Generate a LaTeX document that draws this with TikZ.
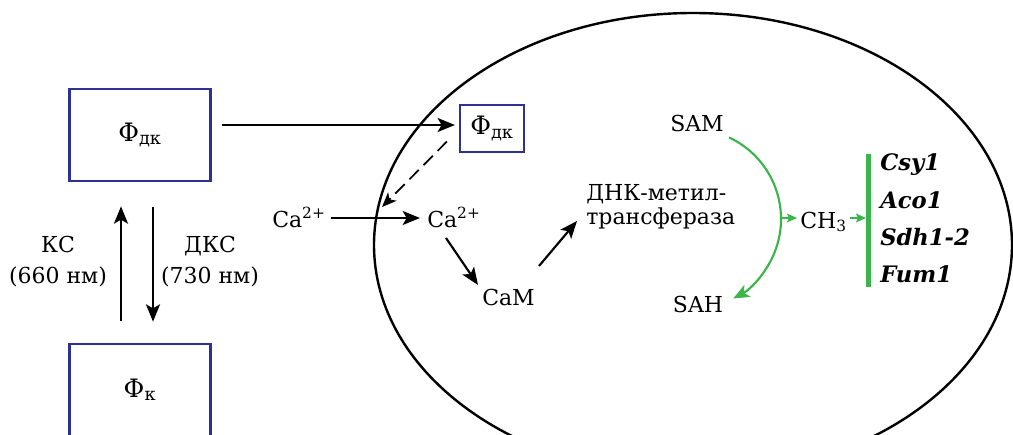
\documentclass[tikz,border=0pt]{standalone}
\usepackage{fontspec}
\setmainfont{DejaVu Serif}
\usetikzlibrary{arrows.meta,calc}
\definecolor{navy}{RGB}{46,49,146}
\definecolor{grn}{RGB}{57,181,74}
\begin{document}
\begin{tikzpicture}[x=0.75pt,y=-0.75pt,
  every node/.style={font=\fontsize{16.5}{19}\selectfont, inner sep=0pt},
  arr/.style={line width=1.6pt, -{Stealth[length=13pt,width=10.5pt,inset=3pt]}},
  darr/.style={line width=1.3pt, dash pattern=on 10pt off 5pt, -{Stealth[length=11pt,width=9pt,inset=3pt]}},
  garc/.style={draw=grn, line width=1.6pt, -{Stealth[length=12pt,width=10pt,inset=3pt]}},
  gsmall/.style={draw=grn, line width=1.3pt, -{Stealth[length=7.5pt,width=6.5pt,inset=1.5pt]}},
  bigbox/.style={draw=navy, line width=2pt, minimum width=106pt, minimum height=69pt, font=\fontsize{19}{21}\selectfont},
  smallbox/.style={draw=navy, line width=1.6pt, minimum width=48pt, minimum height=35.25pt, font=\fontsize{19}{21}\selectfont},
  gene/.style={font=\fontsize{17}{19}\selectfont\bfseries\itshape, anchor=base west}]
\useasboundingbox (0,0) rectangle (1013,435);
\clip (0,0) rectangle (1013,435);

% cell
\draw[line width=1.8pt] (693,245) ellipse [x radius=319, y radius=232];

% boxes
\node[bigbox] (phidk) at (140,135) {Φ\textsubscript{дк}};
\node[bigbox] (phik) at (140,390) {Φ\textsubscript{к}};
\node[smallbox] (phidk2) at (492,128.5) {Φ\textsubscript{дк}};

% light labels
\node[anchor=base] (ks) at (58,252) {КС};
\node[anchor=base] (ks2) at (58,283) {(660 нм)};
\node[anchor=base] (dks) at (210,252) {ДКС};
\node[anchor=base] (dks2) at (210,283) {(730 нм)};

% texts
\node[anchor=base west] (caout) at (272,227) {Ca\textsuperscript{2+}};
\node[anchor=base west] (cain) at (427,227) {Ca\textsuperscript{2+}};
\node[anchor=base west] (cam) at (482,305) {CaM};
\node[anchor=base west] (dnk1) at (586,200) {ДНК-метил-};
\node[anchor=base west] (dnk2) at (586,224) {трансфераза};
\node[anchor=base] (sam) at (697,131) {SAM};
\node[anchor=base] (sah) at (698,312) {SAH};
\node[anchor=base west] (ch3) at (800,228) {CH\textsubscript{3}};
\node[gene] (g1) at (880,170) {Csy1};
\node[gene] (g2) at (880,208) {Aco1};
\node[gene] (g3) at (880,245) {Sdh1-2};
\node[gene] (g4) at (880,282) {Fum1};

% coordinates
\coordinate (memb) at (382,207);
\coordinate (arcC) at (691,219);
\coordinate (arcS) at ($(arcC)+(-65:90)$);
\coordinate (arcR) at (781,218);
\coordinate (barT) at (868,154);
\coordinate (barB) at (868,287);
\coordinate (bar) at (866,218);

% connectors
\draw[arr] ($(phidk.east)+(10,-10)$) -- ($(phidk2.west)+(-4,-3.5)$);
\draw[arr] ($(phik.north)+(-19,-22)$) -- ($(phidk.south)+(-19,24)$);
\draw[arr] ($(phidk.south)+(13,25)$) -- ($(phik.north)+(13,-21)$);
\draw[darr] ($(phidk2.west)+(-12,13)$) -- (memb);
\draw[arr] ($(caout.base west)+(59,-9)$) -- ($(cain.base west)+(-7,-9)$);
\draw[arr] ($(cain.base west)+(19,11)$) -- ($(cam.base west)+(-4,-20)$);
\draw[arr] ($(cam.base west)+(57,-39)$) -- ($(dnk2.base west)+(-9,-3)$);

\draw[garc] (arcS) arc[start angle=-65, end angle=62, radius=90];
\draw[gsmall] (arcR) -- ($(ch3.base west)+(-3,-10)$);
\draw[gsmall] ($(ch3.base west)+(50,-10)$) -- (bar);
\draw[grn, line width=3.75pt] (barT) -- (barB);
\end{tikzpicture}
\end{document}
